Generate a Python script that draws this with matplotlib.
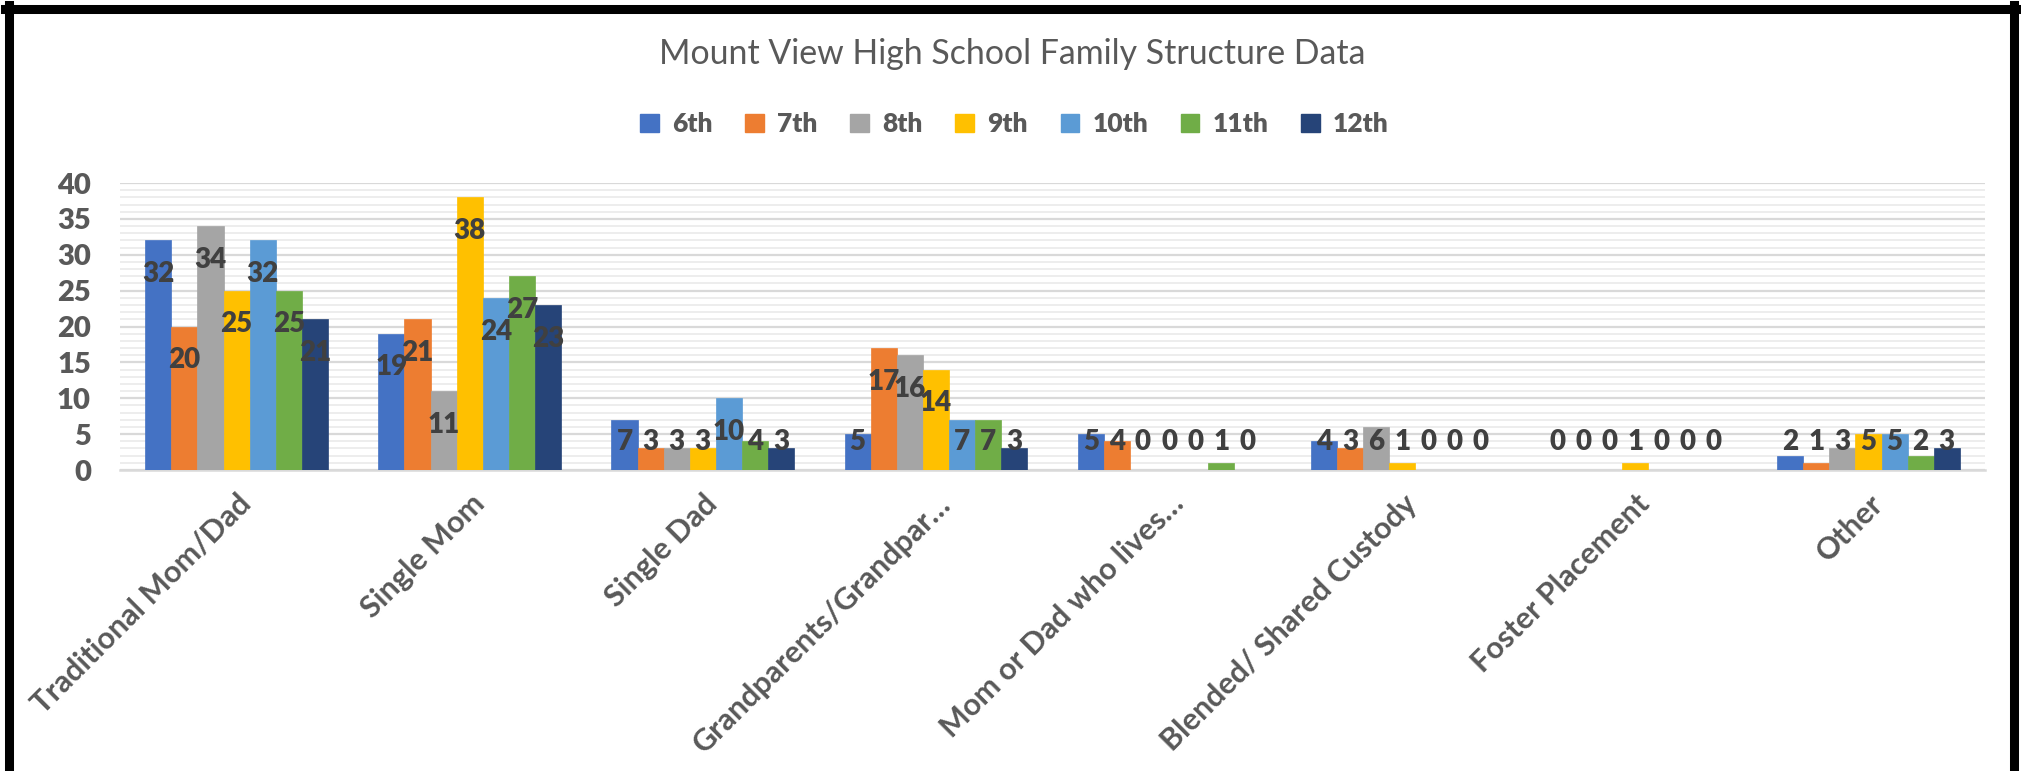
import matplotlib
matplotlib.use("Agg")
import matplotlib.pyplot as plt
import numpy as np
from matplotlib.lines import Line2D
from matplotlib.patches import Patch

plt.rcParams['font.family'] = ['Lato', 'DejaVu Sans']

# data
categories = ["Traditional Mom/Dad", "Single Mom", "Single Dad",
              "Grandparents/Grandpar…", "Mom or Dad who lives…",
              "Blended/ Shared Custody", "Foster Placement", "Other"]
grades = ["6th", "7th", "8th", "9th", "10th", "11th", "12th"]
g6 = [32, 19, 7, 5, 5, 4, 0, 2]
g7 = [20, 21, 3, 17, 4, 3, 0, 1]
g8 = [34, 11, 3, 16, 0, 6, 0, 3]
g9 = [25, 38, 3, 14, 0, 1, 1, 5]
g10 = [32, 24, 10, 7, 0, 0, 0, 5]
g11 = [25, 27, 4, 7, 1, 0, 0, 2]
g12 = [21, 23, 3, 3, 0, 0, 0, 3]
series = [g6, g7, g8, g9, g10, g11, g12]
colors = ["#4472C4", "#ED7D31", "#A5A5A5", "#FFC000", "#5B9BD5", "#70AD47", "#264478"]

fig = plt.figure(figsize=(20.21, 7.71), dpi=100)
ax = fig.add_axes([0.0594, 0.3904, 0.9228, 0.3722])

x = np.arange(len(categories))
width = 0.112
for i, (vals, col) in enumerate(zip(series, colors)):
    pos = x + (i - 3) * width
    ax.bar(pos, vals, width, color=col, edgecolor=col, linewidth=0.5, zorder=3)
    for px, v in zip(pos, vals):
        ax.text(px, max(v - 4.7, 3.9), str(v), ha='center', va='center',
                fontsize=20, fontweight='heavy', color='#404040', zorder=4)

ax.set_xlim(-0.5, len(categories) - 0.5)
ax.set_ylim(0, 40)
ax.set_yticks(range(0, 41, 5))
ax.set_yticks(range(0, 41, 1), minor=True)
ax.grid(axis='y', which='major', color='#d9d9d9', linewidth=1.6, zorder=1)
ax.grid(axis='y', which='minor', color='#ededed', linewidth=1.4, zorder=0)
ax.set_axisbelow(True)
for s in ['top', 'right', 'left']:
    ax.spines[s].set_visible(False)
ax.spines['bottom'].set_color('#d9d9d9')
ax.spines['bottom'].set_linewidth(1.8)
ax.tick_params(axis='y', which='both', length=0, pad=21, labelsize=21,
               labelcolor='#595959')
for t in ax.get_yticklabels():
    t.set_fontweight('heavy')
ax.set_xticks(x)
ax.set_xticklabels(categories, rotation=45, ha='right', rotation_mode='anchor',
                   fontsize=22, fontweight='bold', color='#595959')
ax.tick_params(axis='x', length=0, pad=14)

fig.text(0.501, 0.930, "Mount View High School Family Structure Data",
         ha='center', va='center', fontsize=24.4, color='#595959')

handles = [Patch(facecolor=c, edgecolor=c) for c in colors]
fig.legend(handles, grades, loc='center', bbox_to_anchor=(0.502, 0.839), ncol=7,
           frameon=False, handlelength=0.7, handleheight=0.7, handletextpad=0.5,
           columnspacing=1.25, prop={'size': 19, 'weight': 'heavy'},
           labelcolor='#595959')

# black frame around the chart
fig.add_artist(Line2D([9 / 2021, 9 / 2021], [0, 1 - 5 / 771], color='black', linewidth=6.5))
fig.add_artist(Line2D([5 / 2021, 2018 / 2021], [1 - 9 / 771, 1 - 9 / 771], color='black', linewidth=6.5))
fig.add_artist(Line2D([2014 / 2021, 2014 / 2021], [0, 1 - 5 / 771], color='black', linewidth=6.5))

fig.savefig("out.png", dpi=100, facecolor='white')
